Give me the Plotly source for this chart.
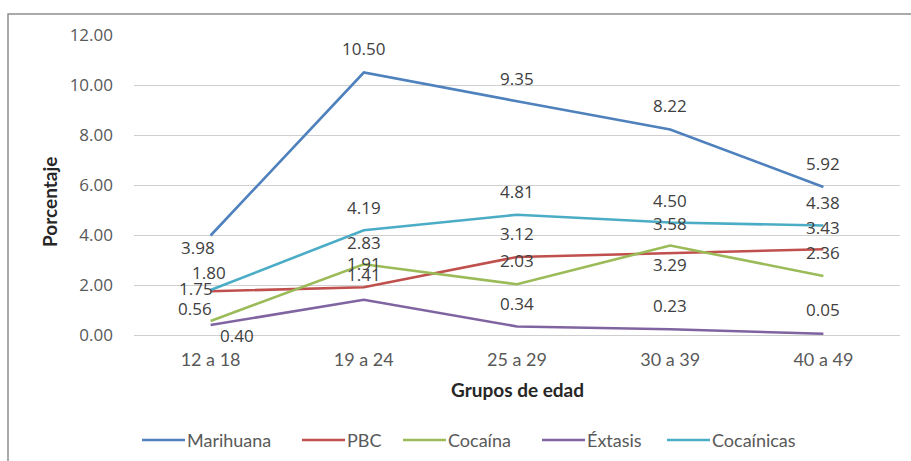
import plotly.graph_objects as go

# Age groups and prevalence (%) per substance
grupos = ["12 a 18", "19 a 24", "25 a 29", "30 a 39", "40 a 49"]
marihuana = [3.98, 10.50, 9.35, 8.22, 5.92]
pbc = [1.75, 1.91, 3.12, 3.29, 3.43]
cocaina = [0.56, 2.83, 2.03, 3.58, 2.36]
extasis = [0.40, 1.41, 0.34, 0.23, 0.05]
cocainicas = [1.80, 4.19, 4.81, 4.50, 4.38]
y_ticks = [0, 2, 4, 6, 8, 10, 12]

series = [
    ("Marihuana", marihuana, "#4F81BD"),
    ("PBC", pbc, "#C0504D"),
    ("Cocaína", cocaina, "#9BBB59"),
    ("Éxtasis", extasis, "#8064A2"),
    ("Cocaínicas", cocainicas, "#4BACC6"),
]

# data-label offsets (dx, dy) in pixels, per series and point
label_shift = {
    "Marihuana": [(-13, -12), (0, 24), (0, 23), (0, 24), (0, 24)],
    "PBC": [(-15, 3), (0, 24), (0, 24), (0, -12), (0, 22)],
    "Cocaína": [(-16, 13), (0, 22), (0, 24), (0, 22), (0, 24)],
    "Éxtasis": [(26, -10), (0, 25), (0, 23), (0, 24), (0, 24)],
    "Cocaínicas": [(-2, 18), (0, 23), (0, 23), (0, 22), (0, 23)],
}

W, H = 911, 461
L, R, T, B = 134, 900, 35, 335


def px(x):
    return (x - L) / (R - L)


def py(y):
    return (B - y) / (B - T)


LABEL_FONT = dict(family="Open Sans", size=17, color="#404040")
TICK_FONT = dict(family="Open Sans", size=17, color="#595959")
CAT_FONT = dict(family="Lato", size=18, color="#595959")

fig = go.Figure()
annotations = []
shapes = []

for name, vals, color in series:
    fig.add_trace(go.Scatter(
        x=grupos, y=vals, mode="lines", name=name,
        line=dict(color=color, width=2.6), showlegend=False,
    ))
    for g, v, (dx, dy) in zip(grupos, vals, label_shift[name]):
        annotations.append(dict(
            x=g, y=v, xref="x", yref="y", text=f"{v:.2f}",
            showarrow=False, xshift=dx, yshift=dy, font=LABEL_FONT,
        ))

# axis titles
annotations.append(dict(
    x=px(517), y=py(389), xref="paper", yref="paper", text="<b>Grupos de edad</b>",
    showarrow=False, font=dict(family="Lato", size=19, color="#262626"),
    xanchor="center", yanchor="middle",
))
annotations.append(dict(
    x=px(49), y=py(202), xref="paper", yref="paper", text="<b>Porcentaje</b>",
    showarrow=False, textangle=-90, font=dict(family="Lato", size=19, color="#262626"),
    xanchor="center", yanchor="middle",
))

# legend drawn below the plot
legend_x = [142, 302, 403, 542, 667]
legend_y = 440
for (name, vals, color), lx in zip(series, legend_x):
    shapes.append(dict(
        type="line", xref="paper", yref="paper",
        x0=px(lx), x1=px(lx + 43), y0=py(legend_y), y1=py(legend_y),
        line=dict(color=color, width=2.6),
    ))
    annotations.append(dict(
        x=px(lx + 43), y=py(legend_y), xref="paper", yref="paper", text=name,
        showarrow=False, xanchor="left", yanchor="middle",
        font=dict(family="Lato", size=18, color="#595959"),
    ))

# chart frame
shapes.append(dict(
    type="rect", xref="paper", yref="paper",
    x0=px(8), x1=px(930), y0=py(480), y1=py(14),
    line=dict(color="#8f8f8f", width=1.5), fillcolor="rgba(0,0,0,0)", layer="below",
))

fig.update_layout(
    width=W, height=H,
    margin=dict(l=L, r=W - R, t=T, b=H - B),
    paper_bgcolor="white", plot_bgcolor="white",
    showlegend=False,
    xaxis=dict(
        type="category", range=[-0.5, 4.5], showgrid=False, showline=False,
        zeroline=False, ticks="", tickfont=CAT_FONT, ticklabelstandoff=12,
    ),
    yaxis=dict(
        range=[0, 12], tickvals=y_ticks, ticktext=[f"{t:.2f}" for t in y_ticks],
        showgrid=True, gridcolor="#cfcfcf", gridwidth=1.2, showline=False,
        zeroline=True, zerolinecolor="#cfcfcf", zerolinewidth=1.2,
        ticks="", tickfont=TICK_FONT, ticklabelstandoff=20,
    ),
    annotations=annotations,
    shapes=shapes,
)

fig.write_html("out.html")
